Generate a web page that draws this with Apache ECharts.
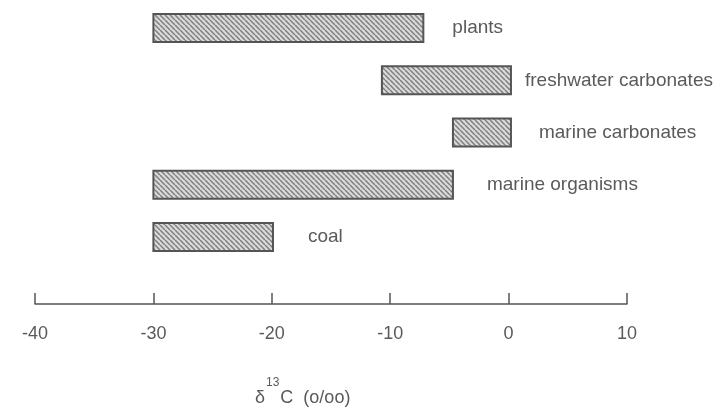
<!DOCTYPE html>
<html>
<head>
<meta charset="utf-8">
<script src="https://cdn.jsdelivr.net/npm/echarts@6/dist/echarts.min.js"></script>
<style>
html,body{margin:0;padding:0;background:#fff;}
#chart{width:722px;height:417px;}
</style>
</head>
<body>
<div id="chart"></div>
<script>
// Data (delta 13C ranges, per mil)
var categories = ['plants', 'freshwater carbonates', 'marine carbonates', 'marine organisms', 'coal'];
var rangeStart = [-30, -10.7, -4.7, -30, -30];
var rangeEnd = [-7.2, 0.2, 0.2, -4.7, -19.9];
var tickValues = [-40, -30, -20, -10, 0, 10];

// label spacing (style, px)
var labelGap = [29, 14, 28, 34, 35];

function makeHatch() {
  var c = document.createElement('canvas');
  var s = 5;
  c.width = s; c.height = s;
  var g = c.getContext('2d');
  g.fillStyle = '#dadada';
  g.fillRect(0, 0, s, s);
  g.strokeStyle = '#7e7e7e';
  g.lineWidth = 1.5;
  for (var k = -1; k <= 1; k++) {
    g.beginPath();
    g.moveTo(k * s, 0);
    g.lineTo(k * s + s, s);
    g.stroke();
  }
  return c;
}
var hatch = makeHatch();

var seriesData = categories.map(function (name, i) {
  return [rangeStart[i], rangeEnd[i], i];
});

var chart = echarts.init(document.getElementById('chart'));
var textColor = '#5a5a5a';
chart.setOption({
  animation: false,
  backgroundColor: '#fff',
  grid: { left: 35, width: 592, top: 2, height: 261 },
  xAxis: {
    type: 'value',
    min: -40, max: 10, interval: 10,
    offset: 41,
    axisLine: { show: true, lineStyle: { color: '#555', width: 1.5 } },
    axisTick: { show: true, inside: true, length: 11, lineStyle: { color: '#555', width: 1.5 } },
    splitLine: { show: false },
    axisLabel: {
      margin: 21, color: textColor, fontFamily: 'Liberation Sans', fontSize: 18,
      formatter: function (v) { return tickValues.indexOf(v) >= 0 ? String(v) : ''; }
    }
  },
  yAxis: {
    type: 'category', data: categories, inverse: true, show: false
  },
  title: {
    left: 250, top: 372,
    text: '{d|δ}{s|13}{c|C}{p|  (o/oo)}',
    textStyle: {
      fontWeight: 'normal',
      rich: {
        d: { fontFamily: 'Liberation Sans', fontSize: 18, fontWeight: 'normal', color: textColor, lineHeight: 30, verticalAlign: 'bottom' },
        s: { fontFamily: 'Liberation Sans', fontSize: 12, fontWeight: 'normal', color: textColor, lineHeight: 12, verticalAlign: 'top', padding: [0, 1, 0, 1] },
        c: { fontFamily: 'Liberation Sans', fontSize: 18, fontWeight: 'normal', color: textColor, lineHeight: 30, verticalAlign: 'bottom' },
        p: { fontFamily: 'Liberation Sans', fontSize: 18, fontWeight: 'normal', color: textColor, lineHeight: 30, verticalAlign: 'bottom' }
      }
    }
  },
  series: [{
    type: 'custom',
    data: seriesData,
    encode: { x: [0, 1], y: 2 },
    renderItem: function (params, api) {
      var idx = api.value(2);
      var p0 = api.coord([api.value(0), idx]);
      var p1 = api.coord([api.value(1), idx]);
      var h = 28;
      return {
        type: 'group',
        children: [{
          type: 'rect',
          shape: { x: p0[0], y: p0[1] - h / 2, width: p1[0] - p0[0], height: h },
          style: { fill: { image: hatch, repeat: 'repeat' }, stroke: '#555', lineWidth: 2 }
        }, {
          type: 'text',
          style: {
            x: p1[0] + labelGap[params.dataIndex], y: p1[1],
            text: categories[params.dataIndex],
            fill: textColor, font: '19px "Liberation Sans"',
            verticalAlign: 'middle', align: 'left'
          }
        }]
      };
    }
  }]
});
</script>
</body>
</html>
